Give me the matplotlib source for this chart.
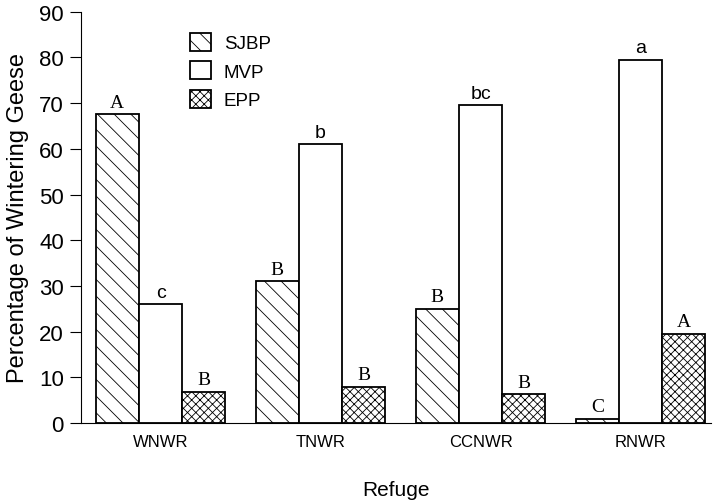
import matplotlib
matplotlib.use("Agg")
import matplotlib.pyplot as plt
import numpy as np
from matplotlib.patches import Patch

refuges = ["WNWR", "TNWR", "CCNWR", "RNWR"]
series_names = ["SJBP", "MVP", "EPP"]
sjbp = [67.5, 31, 25, 1]
mvp = [26, 61, 69.5, 79.5]
epp = [6.8, 8, 6.3, 19.5]
sjbp_letters = ["A", "B", "B", "C"]
mvp_letters = ["c", "b", "bc", "a"]
epp_letters = ["B", "B", "B", "A"]
yticks = [0, 10, 20, 30, 40, 50, 60, 70, 80, 90]

plt.rcParams['hatch.linewidth'] = 0.6
fig = plt.figure(figsize=(7.13, 5.02), dpi=100)
ax = fig.add_axes([0.113, 0.155, 0.884, 0.82])

x = np.arange(len(refuges))
w = 0.27
sans = "Liberation Sans"
serif = "Liberation Serif"
hatch_s = "\\\\"
hatch_e = "xxxx"

b1 = ax.bar(x - w, sjbp, w, facecolor="white", edgecolor="black", hatch=hatch_s, linewidth=1.3)
b2 = ax.bar(x, mvp, w, facecolor="white", edgecolor="black", linewidth=1.3)
b3 = ax.bar(x + w, epp, w, facecolor="white", edgecolor="black", hatch=hatch_e, linewidth=1.3)

for bars, labs, fam in [(b1, sjbp_letters, serif), (b2, mvp_letters, sans), (b3, epp_letters, serif)]:
    for r, lab in zip(bars, labs):
        ax.text(r.get_x() + r.get_width() / 2, r.get_height() + 0.8, lab,
                ha="center", va="bottom", fontsize=14, family=fam)

ax.set_xlim(-0.5, 3.44)
ax.set_ylim(0, 90)
ax.set_yticks(yticks)
ax.set_yticklabels([str(t) for t in yticks], fontsize=16, family=sans)
ax.set_xticks(x)
ax.set_xticklabels(refuges, fontsize=12, family=sans)
ax.tick_params(axis="x", length=0, pad=8)
ax.tick_params(axis="y", length=8, width=0.8, direction="out", pad=4)
ax.spines["top"].set_visible(False)
ax.spines["right"].set_visible(False)
ax.spines["left"].set_linewidth(0.8)
ax.spines["bottom"].set_linewidth(0.8)
ax.set_ylabel("Percentage of Wintering Geese", fontsize=17, family=sans, labelpad=7)
ax.set_xlabel("Refuge", fontsize=15, family=sans, labelpad=22)

handles = [Patch(facecolor="white", edgecolor="black", hatch=hatch_s, linewidth=1.3),
           Patch(facecolor="white", edgecolor="black", linewidth=1.3),
           Patch(facecolor="white", edgecolor="black", hatch=hatch_e, linewidth=1.3)]
ax.legend(handles, series_names, loc="upper left", bbox_to_anchor=(0.147, 0.99),
          frameon=False, prop={"family": sans, "size": 13.5},
          handlelength=1.1, handleheight=1.1, handletextpad=0.7, labelspacing=0.5)

fig.savefig("out.png", dpi=100)
